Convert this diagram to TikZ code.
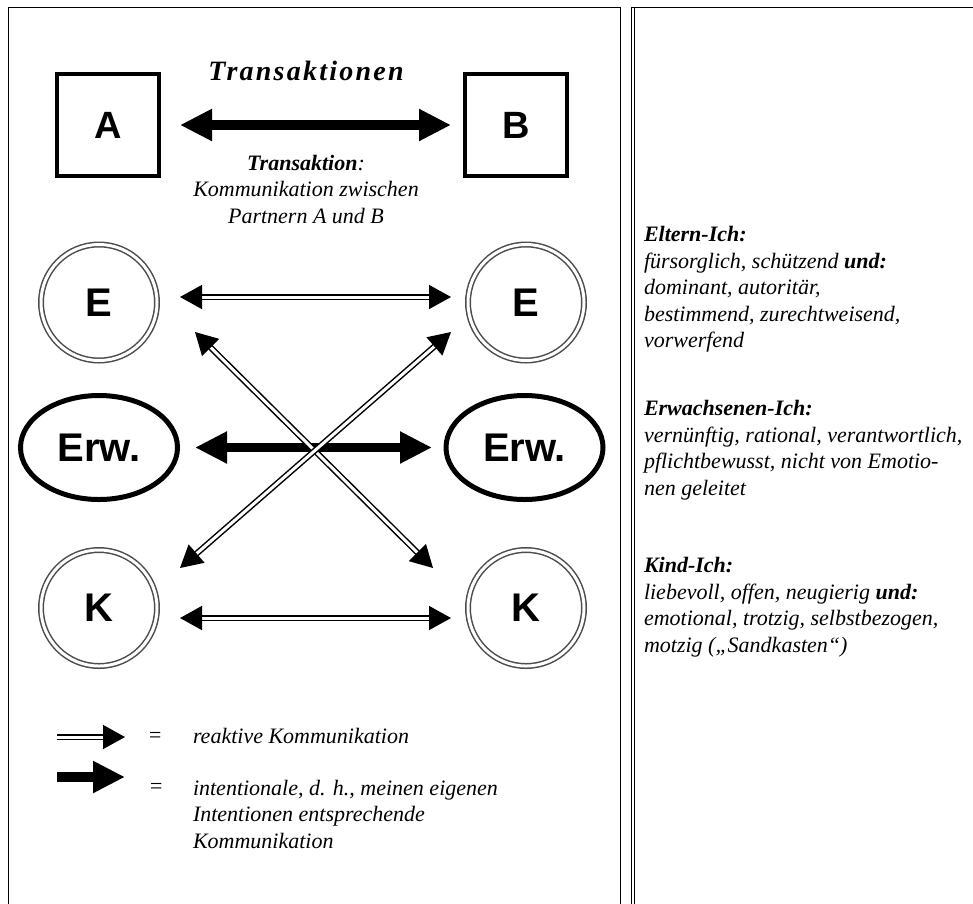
\documentclass[tikz,border=0pt]{standalone}
\usepackage{fontspec}
\setmainfont{Liberation Serif}
\setsansfont{Liberation Sans}
\usetikzlibrary{arrows.meta,shapes.geometric}

\begin{document}
\begin{tikzpicture}[
    x={(1pt,0pt)}, y={(0pt,-1pt)},
    every node/.style={inner sep=0pt, outer sep=0pt},
    rtip/.tip={Triangle[length=22pt,width=24pt]},
    itip/.tip={Triangle[length=32pt,width=30pt]},
    partner/.style={draw, line width=4pt, minimum size=102pt,
      font=\sffamily\bfseries\fontsize{38}{40}\selectfont},
    ichring/.style={circle, draw=ringgray, double, line width=1.5pt,
      double distance=3pt, minimum size=116pt,
      font=\sffamily\bfseries\fontsize{40}{42}\selectfont},
    erwring/.style={ellipse, draw, line width=5pt, minimum width=157pt,
      minimum height=104pt, font=\sffamily\bfseries\fontsize{40}{42}\selectfont},
    reakt/.style={draw, double, line width=1.5pt, double distance=3pt},
    intent/.style={draw, line width=9.5pt},
    body/.style={font=\itshape\fontsize{22}{26.5}\selectfont, align=left},
  ]
    \definecolor{ringgray}{gray}{0.3}
    \useasboundingbox (0,0) rectangle (973,903);
    \clip (0,0) rectangle (973,903);

    % ---- frames ----
    \draw[line width=1pt] (8,7) rectangle (620,930);
    \draw[line width=1pt] (631,7) rectangle (990,930);
    \draw[line width=1pt] (634,7) -- (634,930);

    % ---- partners A and B ----
    \node[anchor=base, font=\bfseries\itshape\fontsize{28}{30}\selectfont\addfontfeatures{LetterSpace=8}]
      (titel) at (306,80) {Transaktionen};
    \node[partner] (A) at (108,125) {A};
    \node[partner] (B) at (516,125) {B};
    \draw[intent, itip-itip, shorten <=21pt, shorten >=14pt] (A) -- (B);
    % base = last line
    \node[body, align=center, anchor=base] (erkl) at (306,223)
      {\textbf{Transaktion}:\\Kommunikation zwischen\\Partnern A und B};

    % ---- ego states ----
    \node[ichring] (EL) at (99,302.5) {E};
    \node[ichring] (ER) at (526,302.5) {E};
    \node[erwring] (WL) at (99,447.5) {Erw.};
    \node[erwring] (WR) at (524.5,447.5) {Erw.};
    \node[ichring] (KL) at (99,608) {K};
    \node[ichring] (KR) at (526,608) {K};

    \draw[reakt, rtip-rtip, shorten <=23pt, shorten >=17pt]
      ([yshift=5.5pt]EL.east) -- ([yshift=5.5pt]ER.west);
    \draw[reakt, rtip-rtip, shorten <=23pt, shorten >=17pt]
      ([yshift=-10pt]KL.east) -- ([yshift=-10pt]KR.west);
    \draw[intent, itip-itip, shorten <=17.5pt, shorten >=14pt] (WL) -- (WR);

    % ---- crossed transactions ----
    \coordinate (xEL) at (195,332);
    \coordinate (xER) at (451,332);
    \coordinate (xKL) at (180,568);
    \coordinate (xKR) at (433,568);
    \draw[reakt, rtip-rtip] (xEL) -- (xKR);
    \draw[reakt, rtip-rtip] (xER) -- (xKL);

    % ---- legend ----
    \coordinate (lgR1) at (57,737);
    \coordinate (lgR2) at (125,737);
    \coordinate (lgI1) at (57,777);
    \coordinate (lgI2) at (125,777);
    \draw[reakt, -rtip] (lgR1) -- (lgR2);
    \draw[line width=10pt, -itip] (lgI1) -- (lgI2);
    \node[body, anchor=base] (eq1) at (155,742) {=};
    \node[body, anchor=base] (eq2) at (156,793) {=};
    \node[body, anchor=base west] (lgtext1) at (193,743) {reaktive Kommunikation};
    \node[body, anchor=base west] (lgtext2) at (193,848)
      {intentionale, d. h., meinen eigenen\\Intentionen entsprechende\\Kommunikation};

    % ---- right panel ----
    \node[body, anchor=base west] (eltern) at (644,347.5)
      {\textbf{Eltern-Ich:}\\fürsorglich, schützend \textbf{und:}\\dominant, autoritär,\\bestimmend, zurechtweisend,\\vorwerfend};
    \node[body, anchor=base west] (erwachsen) at (644,495)
      {\textbf{Erwachsenen-Ich:}\\vernünftig, rational, verantwortlich,\\pflichtbewusst, nicht von Emotio-\\nen geleitet};
    \node[body, anchor=base west] (kind) at (644,652)
      {\textbf{Kind-Ich:}\\liebevoll, offen, neugierig \textbf{und:}\\emotional, trotzig, selbstbezogen,\\motzig („Sandkasten“)};
  \end{tikzpicture}
\end{document}
